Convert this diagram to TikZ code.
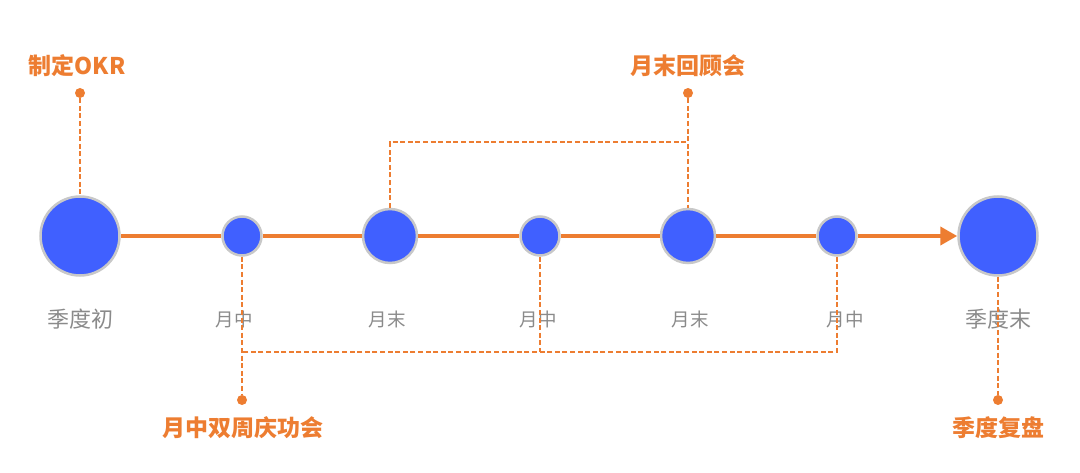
\documentclass[tikz,border=0pt]{standalone}
\usepackage{fontspec}
\usepackage{tikz}
\usetikzlibrary{arrows.meta,positioning}
\newfontfamily\cjk{Noto Sans CJK SC}
\definecolor{accent}{HTML}{ED7D31}
\definecolor{dotblue}{HTML}{4060FF}
\definecolor{rim}{HTML}{C8C8C8}
\definecolor{muted}{HTML}{8A8A8A}

\begin{document}
\begin{tikzpicture}[x=1pt, y=-1pt,
  milestone/.style={circle, draw=rim, line width=2.5pt, fill=dotblue, inner sep=0pt},
  bigstone/.style={milestone, minimum size=79pt},
  midstone/.style={milestone, minimum size=54pt},
  smallstone/.style={milestone, minimum size=39pt},
  period/.style={text=muted, font=\cjk\fontsize{18.5}{22}\selectfont},
  bigperiod/.style={text=muted, font=\cjk\fontsize{22}{26}\selectfont},
  event/.style={text=accent, font=\cjk\bfseries\fontsize{23}{26}\selectfont},
  pin/.style={circle, fill=accent, inner sep=0pt, minimum size=10pt},
  track/.style={draw=accent, line width=4pt},
  link/.style={draw=accent, line width=2.6pt, dash pattern=on 5pt off 2.6pt}
]
\useasboundingbox (0,0) rectangle (1080,473);
% timeline
\node[bigstone] (start) at (80,236) {};
\node[smallstone] (mid1) at (242,236) {};
\node[midstone] (end1) at (390,236) {};
\node[smallstone] (mid2) at (540,236) {};
\node[midstone] (end2) at (688,236) {};
\node[smallstone] (mid3) at (837,236) {};
\node[bigstone] (finish) at (998,236) {};
\draw[track] (start) -- (mid1);
\draw[track] (mid1) -- (end1);
\draw[track] (end1) -- (mid2);
\draw[track] (mid2) -- (end2);
\draw[track] (end2) -- (mid3);
\draw[track, -{Triangle[length=17pt, width=18pt]}] (mid3) -- (finish);
% period labels
\node[bigperiod] (lstart) at (80,319) {季度初};
\node[period] (lmid1) at (234,319) {月中};
\node[period] (lend1) at (387,319) {月末};
\node[period] (lmid2) at (538,319) {月中};
\node[period] (lend2) at (690,319) {月末};
\node[period] (lmid3) at (845,319) {月中};
\node[bigperiod] (lfinish) at (998,319) {季度末};
% events
\node[event] (okr) at (77,66) {制定OKR};
\node[event] (review) at (688,66) {月末回顾会};
\node[event] (celebrate) at (243,428) {月中双周庆功会};
\node[event] (retro) at (998,428) {季度复盘};
\node[pin] (pokr) at (80,93) {};
\node[pin] (preview) at (688,93) {};
\node[pin] (pcelebrate) at (242,400) {};
\node[pin] (pretro) at (998,400) {};
\coordinate (reviewjoin) at (688,142);
\coordinate (celebratejoin) at (242,352);
\draw[link] (pokr) -- (start);
\draw[link] (preview) -- (end2);
\draw[link] (end1) |- (reviewjoin);
\draw[link] (mid1) -- (pcelebrate);
\draw[link] (mid3) |- (celebratejoin);
\draw[link] (mid2) -- (mid2 |- celebratejoin);
\draw[link] (finish) -- (pretro);
\end{tikzpicture}
\end{document}
